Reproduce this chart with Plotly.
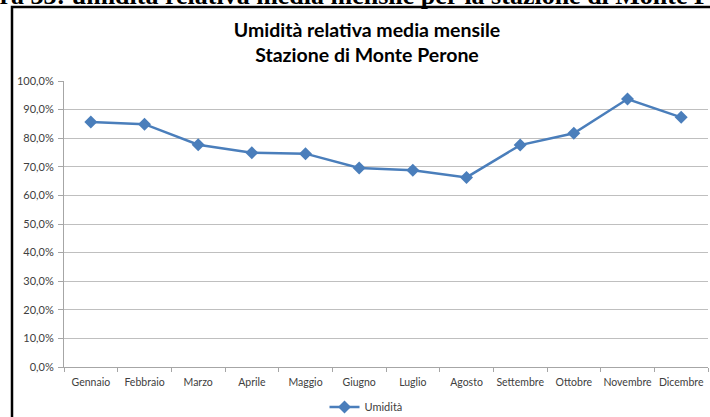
import plotly.graph_objects as go

months = ["Gennaio", "Febbraio", "Marzo", "Aprile", "Maggio", "Giugno",
          "Luglio", "Agosto", "Settembre", "Ottobre", "Novembre", "Dicembre"]
umidita = [0.857, 0.849, 0.777, 0.749, 0.746, 0.696,
           0.688, 0.663, 0.776, 0.817, 0.937, 0.873]
series_name = "Umidità"
chart_title = "Umidità relativa media mensile<br>Stazione di Monte Perone"
caption = "Figura 33: umidità relativa media mensile per la stazione di Monte Perone"

W, H = 710, 417
L, R, T, B = 64, 2, 81, 50
pw, ph = W - L - R, H - T - B

def px(x):
    return (x - L) / pw

def py(y):
    return (H - B - y) / ph

fig = go.Figure()
fig.add_trace(go.Scatter(
    x=months, y=umidita, name=series_name, mode="lines+markers",
    line=dict(color="#4A7EBB", width=2.5),
    marker=dict(symbol="diamond", size=10, color="#4A7EBB"),
    showlegend=True,
))

fig.update_layout(
    width=W, height=H,
    margin=dict(l=L, r=R, t=T, b=B, autoexpand=False),
    paper_bgcolor="white", plot_bgcolor="white",
    separators=",.",
    font=dict(family="Lato, Open Sans, sans-serif", size=11, color="#404040"),
    title=dict(text="<b>" + chart_title + "</b>", xref="container", x=367 / W, xanchor="center",
               y=1 - 37 / H, yanchor="middle",
               font=dict(family="Lato, Open Sans, sans-serif", size=19.5, color="black")),
    xaxis=dict(type="category", range=[-0.5, 11.5], showgrid=False,
               showline=True, linecolor="#A6A6A6", linewidth=1,
               ticks="outside", ticklen=4, tickcolor="#A6A6A6", tickson="boundaries",
               tickangle=0, ticklabelstandoff=5, automargin=False,
               tickfont=dict(size=10.5, color="#404040")),
    yaxis=dict(range=[0, 1.0], dtick=0.1, tickformat=".1%",
               showgrid=True, gridcolor="#BFBFBF", gridwidth=1,
               showline=True, linecolor="#A6A6A6", linewidth=1,
               ticks="outside", ticklen=5, tickcolor="#A6A6A6", automargin=False,
               tickfont=dict(size=11, color="#404040"), zeroline=False,
               ticklabelstandoff=2),
    legend=dict(orientation="h", x=px(366), xanchor="center", y=py(407), yanchor="middle",
                itemwidth=30,
                font=dict(size=11, color="#404040"), bgcolor="rgba(0,0,0,0)"),
    annotations=[dict(text="<b>" + caption + "</b>", xref="paper", yref="paper",
                      x=px(360), y=py(-5), xanchor="center", yanchor="middle",
                      showarrow=False,
                      font=dict(family="Liberation Serif, Times New Roman, serif", size=26, color="black"))],
    shapes=[dict(type="rect", xref="paper", yref="paper",
                 x0=px(12), x1=px(740), y0=py(450), y1=py(7),
                 line=dict(color="black", width=2.5), fillcolor="rgba(0,0,0,0)", layer="below")],
)

fig.write_html("out.html", config={"displayModeBar": False},
               post_script="document.body.style.margin='0';document.body.style.overflow='hidden';")
